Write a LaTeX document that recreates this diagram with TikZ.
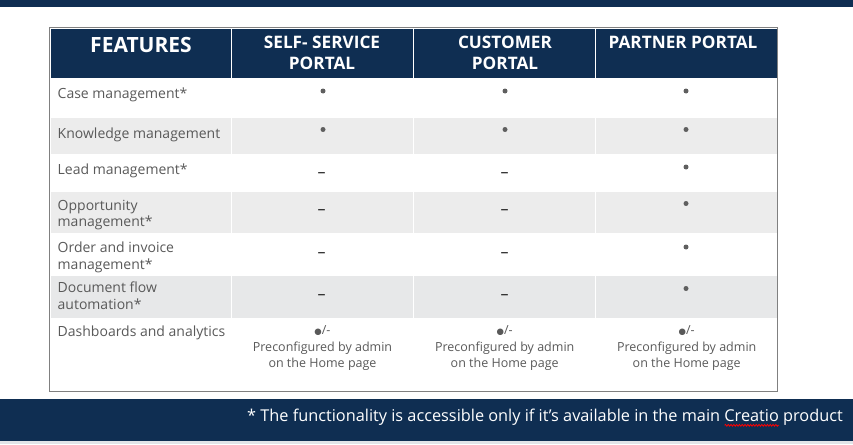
\documentclass[tikz,border=0pt]{standalone}
\usepackage{fontspec}
\setmainfont{Open Sans}
\newfontfamily\dvs{DejaVu Sans}
\usetikzlibrary{decorations.pathmorphing}
\definecolor{navy}{HTML}{0F2E52}
\definecolor{rowgray}{HTML}{ECECEC}
\definecolor{rowgrayb}{HTML}{E7E8E9}
\definecolor{txtgray}{HTML}{595959}
\definecolor{framegray}{HTML}{808080}
\definecolor{dotgray}{HTML}{5F5F5F}
\definecolor{stripe}{HTML}{E1E4E8}
\newcommand\ltab[1]{\begin{tabular}[t]{@{}l@{}}#1\end{tabular}}
\newcommand\ctab[1]{\begin{tabular}[t]{@{}c@{}}#1\end{tabular}}
\newcommand\footfontsel{\fontsize{16.3}{18}\selectfont}
\newlength\prodw
\newlength\creaw
\tikzset{
  feat/.style={anchor=base west, inner sep=0pt, text=txtgray, font=\fontsize{14}{16.7}\selectfont},
  hdr/.style={anchor=base, inner sep=0pt, text=white, font=\bfseries\fontsize{17.2}{21}\selectfont},
  bigdot/.style={circle, fill=dotgray, inner sep=0pt, minimum size=5pt},
  nodash/.style={anchor=base, inner sep=0pt, text=black!88, font=\fontsize{16}{16}\selectfont},
  prec/.style={anchor=base, inner sep=0pt, text=txtgray, font=\fontsize{12.5}{16.7}\selectfont},
  foot/.style={anchor=base east, inner sep=0pt, text=white, font=\footfontsel},
}
\begin{document}
\settowidth\prodw{\footfontsel\ product}%
\settowidth\creaw{\footfontsel Creatio}%
\begin{tikzpicture}[x=1pt,y=-1pt]
\useasboundingbox (0,0) rectangle (853,444);
% top band
\fill[navy] (0,0) rectangle (853,6.7);
% header
\fill[navy] (51,29) rectangle (776.6,77.7);
% gray rows
\fill[rowgray] (51,117.7) rectangle (776.6,154);
\fill[rowgray] (51,191.7) rectangle (776.6,233);
\fill[rowgrayb] (51,276.3) rectangle (776.6,318);
% column separators
\foreach \cx in {231.7,413.3,595.3}
  \draw[white, line width=1.4pt] (\cx,29) -- (\cx,390);
% frame
\draw[framegray, line width=1.3pt] (49.5,27.7) rectangle (777.8,391.2);
% header texts
\node[hdr, font=\bfseries\fontsize{21}{24}\selectfont] (hfeat) at (141,52.7) {FEATURES};
\node[hdr] (hself) at (322,48.5) {\ctab{SELF- SERVICE\\PORTAL}};
\node[hdr] (hcust) at (505,48.5) {\ctab{CUSTOMER\\PORTAL}};
\node[hdr] (hpart) at (683,48.5) {PARTNER PORTAL};
% feature column
\node[feat] (f1) at (57.5,98) {Case management*};
\node[feat] (f2) at (57.5,138) {Knowledge management};
\node[feat] (f3) at (57.5,174) {Lead management*};
\node[feat] (f4) at (57.5,210) {\ltab{Opportunity\\management*}};
\node[feat] (f5) at (57.5,252.7) {\ltab{Order and invoice\\management*}};
\node[feat] (f6) at (57.5,292.7) {\ltab{Document flow\\automation*}};
\node[feat] (f7) at (57.5,336.7) {Dashboards and analytics};
% bullets
\node[bigdot] (s1) at (323,91) {};
\node[bigdot] (c1) at (505,91) {};
\node[bigdot] (p1) at (686,91) {};
\node[bigdot] (s2) at (323,129.5) {};
\node[bigdot] (c2) at (505,129.5) {};
\node[bigdot] (p2) at (686,129.5) {};
\node[bigdot] (p3) at (686,167) {};
\node[bigdot] (p4) at (686,203.5) {};
\node[bigdot] (p5) at (686,247) {};
\node[bigdot] (p6) at (686,288.5) {};
% dashes
\node[nodash] (s3) at (321.7,177.3) {–};
\node[nodash] (c3) at (504.7,177.3) {–};
\node[nodash] (s4) at (321.7,214) {–};
\node[nodash] (c4) at (504.7,214) {–};
\node[nodash] (s5) at (321.7,257.3) {–};
\node[nodash] (c5) at (504.7,257.3) {–};
\node[nodash] (s6) at (321.7,299) {–};
\node[nodash] (c6) at (504.7,299) {–};
% dashboards row
\node[prec] (s7) at (322.5,334.3) {\ctab{{\dvs\fontsize{8.5}{8.5}\selectfont ●}/-\\Preconfigured by admin\\on the Home page}};
\node[prec] (c7) at (504.7,334.3) {\ctab{{\dvs\fontsize{8.5}{8.5}\selectfont ●}/-\\Preconfigured by admin\\on the Home page}};
\node[prec] (p7) at (686.7,334.3) {\ctab{{\dvs\fontsize{8.5}{8.5}\selectfont ●}/-\\Preconfigured by admin\\on the Home page}};
% footer
\fill[navy] (0,399) rectangle (853,441);
\fill[stripe] (0,441) rectangle (853,444);
\node[foot] (fn) at (843,421.7) {* The functionality is accessible only if it’s available in the main Creatio product};
\coordinate (ulstart) at ([xshift=-\prodw-\creaw, yshift=-3.6pt]fn.base east);
\coordinate (ulend) at ([xshift=-\prodw, yshift=-3.6pt]fn.base east);
\draw[red, line width=0.8pt, decorate, decoration={snake, amplitude=0.9pt, segment length=2.8pt}]
  (ulstart) -- (ulend);
\end{tikzpicture}
\end{document}
